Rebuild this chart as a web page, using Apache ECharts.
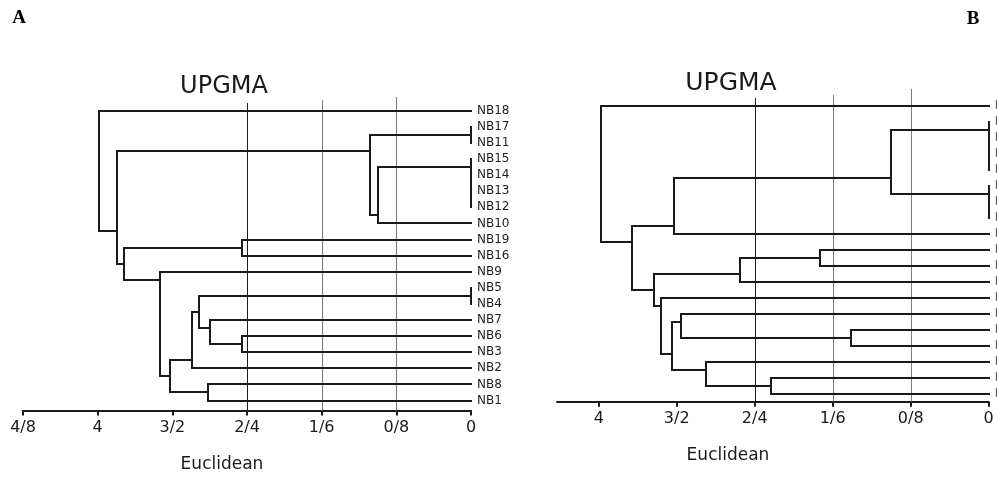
<!DOCTYPE html>
<html>
<head>
<meta charset="utf-8">
<script src="https://cdn.jsdelivr.net/npm/echarts@6/dist/echarts.min.js"></script>
<style>
html,body{margin:0;padding:0;background:#fff;}
#chart{width:997px;height:477px;}
</style>
</head>
<body>
<div id="chart"></div>
<script>
// ---- Data ----
const tickValues = [0, 0.8, 1.6, 2.4, 3.2, 4.0, 4.8];
const tickLabels = ['0', '0/8', '1/6', '2/4', '3/2', '4', '4/8'];
const tickValuesB = [0, 0.8, 1.6, 2.4, 3.2, 4.0];
const gridLineValues = [2.4, 1.6, 0.8];

// Panel A leaves (top to bottom)
const leavesA = ['NB18','NB17','NB11','NB15','NB14','NB13','NB12','NB10','NB19','NB16',
                 'NB9','NB5','NB4','NB7','NB6','NB3','NB2','NB8','NB1'];
// Panel A merges: [left, right, height]; merge k is referred to as 'm'+k
const linkA = [
  ['NB17', 'NB11', 0],     // m0
  ['NB13', 'NB12', 0],     // m1
  ['NB14', 'm1', 0],       // m2
  ['NB15', 'm2', 0],       // m3
  ['m3', 'NB10', 1.00],    // m4
  ['m0', 'm4', 1.08],      // m5
  ['NB19', 'NB16', 2.45],  // m6
  ['NB5', 'NB4', 0],       // m7
  ['NB6', 'NB3', 2.45],    // m8
  ['NB7', 'm8', 2.80],     // m9
  ['m7', 'm9', 2.91],      // m10
  ['m10', 'NB2', 2.99],    // m11
  ['NB8', 'NB1', 2.82],    // m12
  ['m11', 'm12', 3.23],    // m13
  ['NB9', 'm13', 3.33],    // m14
  ['m6', 'm14', 3.715],    // m15
  ['m5', 'm15', 3.79],     // m16
  ['NB18', 'm16', 3.99]    // m17
];

// Panel B leaves (labels cut off at the image edge)
const leavesB = ['L0','L1','L2','L3','L4','L5','L6','L7','L8','L9',
                 'L10','L11','L12','L13','L14','L15','L16','L17','L18'];
const leafTextB = 'NB';
const linkB = [
  ['L3', 'L4', 0],         // m0
  ['L2', 'm0', 0],         // m1
  ['L1', 'm1', 0],         // m2
  ['L6', 'L7', 0],         // m3
  ['L5', 'm3', 0],         // m4
  ['m2', 'm4', 1.00],      // m5
  ['m5', 'L8', 3.23],      // m6
  ['L9', 'L10', 1.73],     // m7
  ['m7', 'L11', 2.55],     // m8
  ['L14', 'L15', 1.41],    // m9
  ['L13', 'm9', 3.16],     // m10
  ['L17', 'L18', 2.23],    // m11
  ['L16', 'm11', 2.90],    // m12
  ['m10', 'm12', 3.25],    // m13
  ['L12', 'm13', 3.36],    // m14
  ['m8', 'm14', 3.43],     // m15
  ['m6', 'm15', 3.66],     // m16
  ['L0', 'm16', 3.98]      // m17
];

// ---- Build bracket segments from the linkage ----
function buildSegments(leaves, links) {
  const nodes = {};
  leaves.forEach((n, i) => { nodes[n] = { y: i, h: 0, first: i, last: i }; });
  const items = [];
  links.forEach((l, k) => {
    const a = nodes[l[0]], b = nodes[l[1]];
    items.push([l[2], a.y, b.y, a.h, b.h]);
    nodes['m' + k] = { h: l[2], first: a.first, last: b.last, y: (a.last + b.first) / 2 };
  });
  return items;
}
const segA = buildSegments(leavesA, linkA);
const segB = buildSegments(leavesB, linkB);

// ---- Styles ----
const INK = '#1a1a1a';
const FONT = 'DejaVu Sans';
const gridColors = ['#1e1e1e', '#7a7a7a', '#7a7a7a'];
const gridTopsA = [103, 100, 97];
const gridTopsB = [98, 95, 89];

function tickFmt(v) {
  const i = Math.round(v / 0.8);
  if (Math.abs(v - tickValues[i]) > 1e-6) return '';
  return tickLabels[i];
}

function snap(p) { return [Math.round(p[0]), Math.round(p[1])]; }

function dendroSeries(idx, data) {
  return {
    type: 'custom', xAxisIndex: idx, yAxisIndex: idx, data: data, z: 3, silent: true,
    encode: { x: [0, 3, 4], y: [1, 2] },
    renderItem: function (params, api) {
      const h = api.value(0), yl = api.value(1), yr = api.value(2), hl = api.value(3), hr = api.value(4);
      const pts = [api.coord([hl, yl]), api.coord([h, yl]), api.coord([h, yr]), api.coord([hr, yr])].map(snap);
      return { type: 'polyline', shape: { points: pts },
        style: { stroke: INK, lineWidth: 2, fill: null, lineJoin: 'miter', lineCap: 'square' } };
    }
  };
}
function gridSeries(idx, tops) {
  return {
    type: 'custom', xAxisIndex: idx, yAxisIndex: idx, data: gridLineValues.map(v => [v, 0]), z: 1, silent: true,
    encode: { x: 0, y: 1 },
    renderItem: function (params, api) {
      const cs = params.coordSys;
      const x = Math.round(api.coord([api.value(0), 0])[0]) + 0.5;
      return { type: 'line', shape: { x1: x, y1: tops[params.dataIndex], x2: x, y2: cs.y + cs.height },
        style: { stroke: gridColors[params.dataIndex], lineWidth: 1 } };
    }
  };
}
function xAxisDef(idx, max, ticks) {
  return {
    type: 'value', gridIndex: idx, inverse: true, min: 0, max: max, interval: 0.8,
    splitLine: { show: false },
    axisLine: { show: true, onZero: false, lineStyle: { color: INK, width: 2 } },
    axisTick: { show: true, length: 5, customValues: ticks, lineStyle: { color: INK, width: 2 } },
    axisLabel: { show: true, customValues: ticks, margin: 9, fontFamily: FONT, fontSize: 16, color: INK, formatter: tickFmt }
  };
}
function yAxisDef(idx, min, max, labelFn, color) {
  const vals = [];
  for (let i = 0; i < 19; i++) vals.push(i);
  return {
    type: 'value', gridIndex: idx, inverse: true, min: min, max: max, position: 'right',
    splitLine: { show: false }, axisLine: { show: false }, axisTick: { show: false },
    axisLabel: { show: true, customValues: vals, margin: 6, fontFamily: FONT, fontSize: 12, color: color,
      formatter: labelFn }
  };
}

const chart = echarts.init(document.getElementById('chart'), null, { renderer: 'canvas' });
chart.setOption({
  animation: false,
  backgroundColor: '#ffffff',
  grid: [
    { left: 23, right: 526, top: 100, bottom: 66.5, containLabel: false, outerBoundsMode: 'none' },
    { left: 557, right: 8.3, top: 94, bottom: 75.3, containLabel: false, outerBoundsMode: 'none' }
  ],
  xAxis: [
    xAxisDef(0, 4.8, tickValues),
    xAxisDef(1, 4.428, tickValuesB)
  ],
  yAxis: [
    yAxisDef(0, -0.665, 18.62, v => leavesA[Math.round(v)] || '', '#1e1e1e'),
    yAxisDef(1, -0.75, 18.5, v => leafTextB, '#555')
  ],
  series: [
    gridSeries(0, gridTopsA),
    gridSeries(1, gridTopsB),
    dendroSeries(0, segA),
    dendroSeries(1, segB)
  ],
  graphic: [
    { type: 'text', x: 19, y: 18, style: { text: 'A', font: 'bold 19px "Liberation Serif"', fill: '#000', textAlign: 'center', textVerticalAlign: 'middle' } },
    { type: 'text', x: 973, y: 19, style: { text: 'B', font: 'bold 19px "Liberation Serif"', fill: '#000', textAlign: 'center', textVerticalAlign: 'middle' } },
    { type: 'text', x: 224, y: 87, style: { text: 'UPGMA', font: '24px "DejaVu Sans"', fill: INK, textAlign: 'center', textVerticalAlign: 'middle' } },
    { type: 'text', x: 731, y: 83, style: { text: 'UPGMA', font: '25px "DejaVu Sans"', fill: INK, textAlign: 'center', textVerticalAlign: 'middle' } },
    { type: 'text', x: 222, y: 465, style: { text: 'Euclidean', font: '17px "DejaVu Sans"', fill: INK, textAlign: 'center', textVerticalAlign: 'middle' } },
    { type: 'text', x: 728, y: 456, style: { text: 'Euclidean', font: '17px "DejaVu Sans"', fill: INK, textAlign: 'center', textVerticalAlign: 'middle' } }
  ]
});
</script>
</body>
</html>
